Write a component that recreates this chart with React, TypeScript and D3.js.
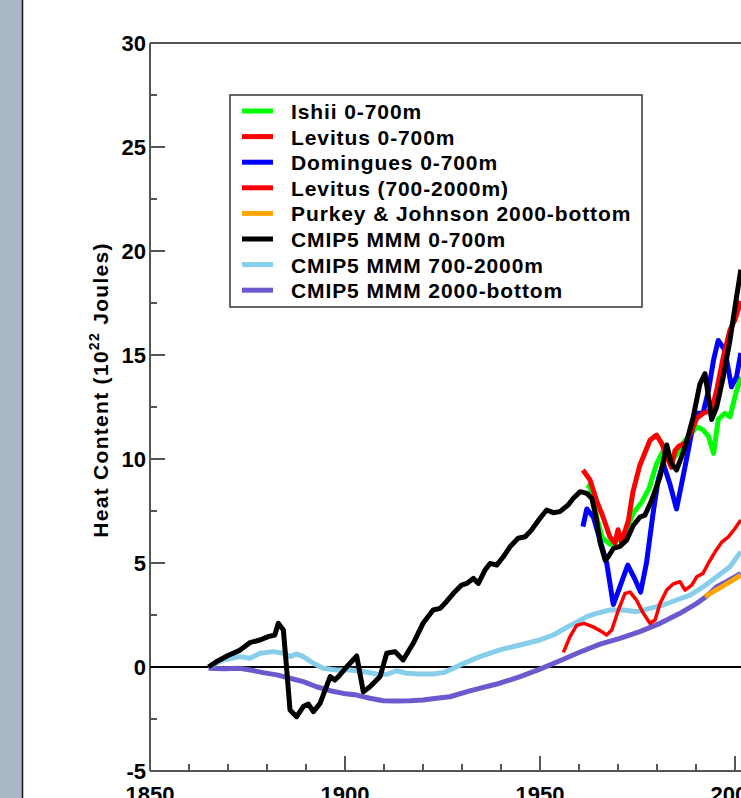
import * as d3 from "d3";
import { useEffect, useRef } from "react";

// values (years, 10^22 J)
const blackYears = [1865, 1867, 1870, 1873, 1875.6, 1878.2, 1880.3, 1882, 1882.9, 1884.2, 1885, 1885.9, 1887.6, 1889.3, 1890.6, 1891.9, 1893.6, 1896.2, 1897.4, 1898.7, 1900.4, 1903, 1904.7, 1906.4, 1909, 1910.7, 1912.8, 1914.9, 1917.5, 1920, 1922.6, 1924.4, 1926, 1927.8, 1929.9, 1931.2, 1932.9, 1934.2, 1935.9, 1937.2, 1938.9, 1940.6, 1942.3, 1944.4, 1946.2, 1947.8, 1950, 1951.7, 1953.4, 1955.1, 1957.2, 1958.5, 1960.3, 1962, 1963.3, 1964.5, 1965.4, 1966.7, 1967.5, 1968.8, 1970.5, 1972.2, 1973.9, 1975.6, 1976.9, 1978.6, 1980.8, 1982.5, 1983.7, 1985, 1986.3, 1987.6, 1989.3, 1991, 1992.3, 1993.2, 1994, 1995.3, 1997, 1998.7, 2000.4, 2001.5];
const blackValues = [0, 0.25, 0.55, 0.8, 1.17, 1.3, 1.46, 1.54, 2.1, 1.78, 0, -2.07, -2.39, -1.9, -1.78, -2.15, -1.75, -0.46, -0.63, -0.38, 0, 0.53, -1.19, -0.95, -0.46, 0.66, 0.74, 0.34, 1.14, 2.1, 2.74, 2.82, 3.14, 3.54, 3.94, 4.02, 4.26, 4.02, 4.66, 4.98, 4.9, 5.3, 5.78, 6.19, 6.26, 6.58, 7.15, 7.55, 7.42, 7.47, 7.79, 8.1, 8.43, 8.35, 8.1, 7.1, 6.0, 5.14, 5.3, 5.7, 5.8, 6.1, 6.8, 7.2, 7.3, 8.0, 9.15, 10.67, 9.78, 9.47, 10.1, 10.83, 12.03, 13.6, 14.1, 13.0, 11.9, 12.5, 13.96, 15.7, 17.8, 19.1];

const ishiiYears = [1962, 1962.8, 1963.7, 1964.5, 1966, 1968, 1970, 1972, 1973.9, 1976, 1978, 1979.9, 1981.6, 1983.3, 1985, 1987.2, 1990.2, 1991.8, 1993.2, 1994.5, 1995.7, 1997.4, 1998.7, 2000, 2001.5];
const ishiiValues = [8.75, 8.67, 8.0, 7.2, 6.2, 5.9, 6.1, 6.5, 7.4, 7.9, 8.6, 9.78, 10.4, 9.9, 10.2, 10.9, 11.55, 11.4, 11.1, 10.27, 11.9, 12.2, 12.03, 13.0, 13.96];

const levitusYears = [1961, 1962.8, 1964.5, 1966.2, 1967.9, 1969.2, 1970, 1970.9, 1972.7, 1973.8, 1975.6, 1978.2, 1979.9, 1981.2, 1982.5, 1983.7, 1984.6, 1985.5, 1987.5, 1990.2, 1991.8, 1994, 1995.3, 1997, 1998.7, 2000, 2001.5];
const levitusValues = [9.47, 9.0, 8.0, 7.2, 6.26, 5.95, 6.6, 6.0, 7.07, 8.4, 9.7, 10.9, 11.15, 10.75, 10.1, 9.6, 10.4, 10.6, 10.8, 11.95, 12.2, 12.35, 13.3, 14.9, 16.2, 16.7, 17.6];

const dominguesYears = [1961, 1962, 1963.7, 1965.4, 1967.1, 1968.8, 1970.5, 1972.5, 1974.4, 1975.8, 1977.3, 1979, 1980.3, 1981.6, 1983.3, 1985, 1986.3, 1988, 1989.3, 1990.2, 1991.8, 1993.2, 1994.5, 1995.7, 1997.4, 1999.1, 2000.4, 2001.5];
const dominguesValues = [6.75, 7.6, 7.2, 6.1, 5.0, 3.0, 3.86, 4.9, 4.2, 3.6, 5.0, 7.4, 9.0, 9.8, 8.8, 7.6, 8.8, 10.4, 11.7, 12.2, 12.2, 13.3, 14.76, 15.7, 15.24, 13.47, 13.96, 15.1];

const levitusDeepYears = [1956, 1957.7, 1959.4, 1961.3, 1963.5, 1965.4, 1967.1, 1968.4, 1970.1, 1971.8, 1973.1, 1974.8, 1976.5, 1978.2, 1979.5, 1980.8, 1982.5, 1984.2, 1985.9, 1987.2, 1988.9, 1990.2, 1991.8, 1993.2, 1994.9, 1996.6, 1998.3, 2000, 2001.5];
const levitusDeepValues = [0.7, 1.46, 2.0, 2.1, 1.94, 1.75, 1.54, 1.78, 2.74, 3.54, 3.6, 3.2, 2.58, 2.1, 2.26, 3.06, 3.7, 4.0, 4.1, 3.7, 3.94, 4.34, 4.5, 5.0, 5.54, 6.0, 6.26, 6.66, 7.07];

const purkeyYears = [1992.3, 1997, 2001.5];
const purkeyValues = [3.38, 3.9, 4.42];

const midYears = [1865, 1868.8, 1873, 1875.6, 1878.2, 1881.6, 1884.2, 1885.9, 1887.6, 1889.3, 1891.9, 1894.4, 1897.8, 1901.3, 1904.7, 1908.1, 1910.7, 1913.2, 1915.8, 1919.2, 1922.6, 1925.2, 1926.9, 1929.5, 1934.6, 1939.7, 1944.9, 1950, 1953.4, 1956.8, 1959.4, 1962, 1964.5, 1967.9, 1971.4, 1974.8, 1978.2, 1981.6, 1985, 1988.5, 1991.9, 1995.3, 1998.7, 2001.5];
const midValues = [0, 0.34, 0.5, 0.42, 0.66, 0.74, 0.66, 0.5, 0.63, 0.5, 0.18, -0.06, -0.14, -0.14, -0.22, -0.34, -0.35, -0.18, -0.3, -0.34, -0.34, -0.27, -0.14, 0.1, 0.5, 0.82, 1.06, 1.3, 1.54, 1.9, 2.15, 2.42, 2.58, 2.74, 2.74, 2.66, 2.82, 2.98, 3.22, 3.46, 3.86, 4.34, 4.82, 5.54];

const deepYears = [1865, 1869, 1873, 1875.6, 1879, 1882.5, 1885.9, 1889.3, 1892.7, 1896.2, 1899.6, 1903, 1906.4, 1909.8, 1913.2, 1916.7, 1920, 1923.5, 1926.9, 1932, 1939.7, 1944.9, 1950, 1955.1, 1960.3, 1965.4, 1970.5, 1975.6, 1980.8, 1985.9, 1990.2, 1992.7, 1995.3, 1997.8, 2001.5];
const deepValues = [-0.06, -0.08, -0.06, -0.14, -0.27, -0.38, -0.54, -0.7, -0.95, -1.14, -1.27, -1.35, -1.5, -1.62, -1.63, -1.62, -1.59, -1.5, -1.43, -1.15, -0.78, -0.46, -0.1, 0.3, 0.72, 1.1, 1.38, 1.7, 2.1, 2.58, 3.06, 3.4, 3.86, 4.1, 4.5];

const legendLabels = [
  "Ishii 0-700m",
  "Levitus 0-700m",
  "Domingues 0-700m",
  "Levitus (700-2000m)",
  "Purkey & Johnson 2000-bottom",
  "CMIP5 MMM 0-700m",
  "CMIP5 MMM 700-2000m",
  "CMIP5 MMM 2000-bottom",
];
const legendColors = ["#00ff00", "#ff0000", "#0000ff", "#ff0000", "#ffa500", "#000000", "#87ceeb", "#6a5acd"];

const yTicks = [-5, 0, 5, 10, 15, 20, 25, 30];
const xTicks = [1850, 1900, 1950, 2000];

const FONT = "'Liberation Sans', Arial, Helvetica, sans-serif";

const App = () => {
  const ref = useRef<SVGSVGElement>(null);

  useEffect(() => {
    const svg = d3.select(ref.current);
    svg.selectAll("*").remove();
    const width = 741;
    const height = 798;

    const x = d3.scaleLinear().domain([1850, 2000]).range([150, 735]);
    const y = d3.scaleLinear().domain([-5, 30]).range([771, 43]);

    svg.attr("width", width).attr("height", height).style("background", "#fff");

    // grey side panel
    svg.append("rect").attr("x", 0).attr("y", 0).attr("width", 22).attr("height", height).attr("fill", "#a9b7c6");
    svg.append("line").attr("x1", 22.5).attr("x2", 22.5).attr("y1", 0).attr("y2", height).attr("stroke", "#111").attr("stroke-width", 1.5);

    const frame = "#555";
    // frame
    svg.append("line").attr("x1", x(1850)).attr("x2", width).attr("y1", y(30)).attr("y2", y(30)).attr("stroke", frame).attr("stroke-width", 2);
    svg.append("line").attr("x1", x(1850)).attr("x2", width).attr("y1", y(-5)).attr("y2", y(-5)).attr("stroke", frame).attr("stroke-width", 2);
    svg.append("line").attr("x1", x(1850)).attr("x2", x(1850)).attr("y1", y(30)).attr("y2", y(-5)).attr("stroke", frame).attr("stroke-width", 2);

    // y ticks
    const yMinor = d3.range(-5, 30.1, 2.5);
    svg.append("g").selectAll("line").data(yMinor).join("line")
      .attr("x1", x(1850)).attr("x2", (d) => x(1850) + (d % 5 === 0 ? 15 : 7))
      .attr("y1", (d) => y(d)).attr("y2", (d) => y(d))
      .attr("stroke", frame).attr("stroke-width", 2);
    svg.append("g").selectAll("text").data(yTicks).join("text")
      .attr("x", x(1850) - 4).attr("y", (d) => y(d) + 8)
      .attr("text-anchor", "end")
      .style("font-family", FONT).style("font-weight", "bold").style("font-size", "22px")
      .text((d) => d);

    // x ticks (labels sit at the bottom edge, as in the source image)
    const xMinor = d3.range(1850, 2011, 10);
    svg.append("g").selectAll("line").data(xMinor).join("line")
      .attr("x1", (d) => x(d)).attr("x2", (d) => x(d))
      .attr("y1", y(-5)).attr("y2", (d) => y(-5) - (d % 50 === 0 ? 15 : 7))
      .attr("stroke", frame).attr("stroke-width", 2);
    svg.append("g").selectAll("text").data(xTicks).join("text")
      .attr("x", (d) => x(d)).attr("y", y(-5) + 31)
      .attr("text-anchor", "middle")
      .style("font-family", FONT).style("font-weight", "bold").style("font-size", "22px")
      .text((d) => d);

    // y title
    const title = svg.append("text")
      .attr("transform", `translate(108,390) rotate(-90)`)
      .attr("text-anchor", "middle")
      .style("font-family", FONT).style("font-weight", "bold").style("font-size", "21px")
      .style("letter-spacing", "1.3px");
    title.append("tspan").text("Heat Content (10");
    title.append("tspan").attr("dy", -9).style("font-size", "14px").text("22");
    title.append("tspan").attr("dy", 9).text(" Joules)");

    // zero line
    svg.append("line").attr("x1", x(1850)).attr("x2", width).attr("y1", y(0)).attr("y2", y(0)).attr("stroke", "#000").attr("stroke-width", 2);

    const series = [
      { years: deepYears, values: deepValues, color: "#6a5acd", w: 5 },
      { years: midYears, values: midValues, color: "#87ceeb", w: 5 },
      { years: purkeyYears, values: purkeyValues, color: "#ffa500", w: 5 },
      { years: levitusDeepYears, values: levitusDeepValues, color: "#ff0000", w: 3.5 },
      { years: ishiiYears, values: ishiiValues, color: "#00ff00", w: 5 },
      { years: dominguesYears, values: dominguesValues, color: "#0000ff", w: 5 },
      { years: levitusYears, values: levitusValues, color: "#ff0000", w: 5 },
      { years: blackYears, values: blackValues, color: "#000000", w: 5 },
    ];

    const line = d3.line<[number, number]>().x((d) => x(d[0])).y((d) => y(d[1]));

    svg.append("g").selectAll("path").data(series).join("path")
      .attr("d", (s) => line(s.years.map((yr, i) => [yr, s.values[i]] as [number, number])))
      .attr("fill", "none")
      .attr("stroke", (s) => s.color)
      .attr("stroke-width", (s) => s.w)
      .attr("stroke-linejoin", "round");

    // legend
    const lg = svg.append("g");
    lg.append("rect").attr("x", 230).attr("y", 95).attr("width", 412).attr("height", 212)
      .attr("fill", "#fff").attr("stroke", "#333").attr("stroke-width", 1.5);
    const rowY = (i: number) => 111 + i * 25.6;
    lg.selectAll("line").data(legendLabels).join("line")
      .attr("x1", 242).attr("x2", 273)
      .attr("y1", (_, i) => rowY(i)).attr("y2", (_, i) => rowY(i))
      .attr("stroke", (_, i) => legendColors[i]).attr("stroke-width", 5);
    lg.selectAll("text").data(legendLabels).join("text")
      .attr("x", 291).attr("y", (_, i) => rowY(i) + 8)
      .style("font-family", FONT).style("font-weight", "bold").style("font-size", "21px")
      .style("letter-spacing", "0.9px")
      .text((d) => d);
  }, []);

  return (
    <div style={{ position: "absolute", left: 0, top: 0, width: 741, height: 798, overflow: "hidden" }}>
      <svg ref={ref} style={{ display: "block" }} />
    </div>
  );
};

export default App;
